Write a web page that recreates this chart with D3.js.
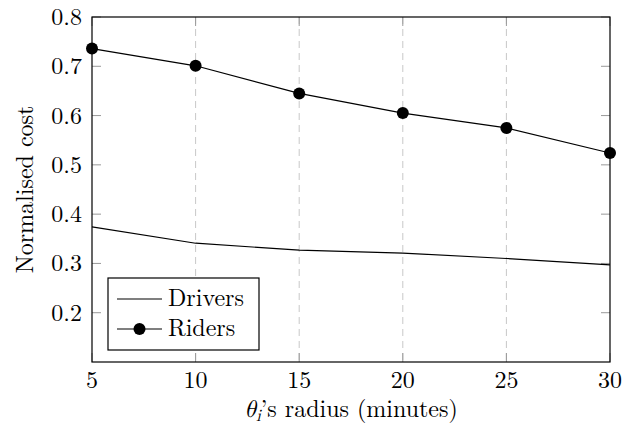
<!DOCTYPE html>
<html>
<head>
<meta charset="utf-8">
<script src="https://cdn.jsdelivr.net/npm/d3@7"></script>
<style>
  body { margin: 0; background: #fff; }
  svg text { font-family: "Latin Modern Roman", "CMU Serif", serif; fill: #000; }
  .math { font-family: "Latin Modern Math", "Latin Modern Roman", serif; font-style: italic; }
</style>
</head>
<body>
<div id="chart"></div>
<script>
// Daten
const radii = [5, 10, 15, 20, 25, 30];
const drivers = [0.374, 0.341, 0.327, 0.321, 0.310, 0.297];
const riders = [0.736, 0.701, 0.645, 0.605, 0.575, 0.524];
const yTicks = [0.2, 0.3, 0.4, 0.5, 0.6, 0.7, 0.8];

const width = 624, height = 435;
const margin = {top: 17, right: 14, bottom: 73, left: 92};
const innerWidth = width - margin.left - margin.right;
const innerHeight = height - margin.top - margin.bottom;
const fs = "24px";

const svg = d3.select("#chart").append("svg")
    .attr("width", width)
    .attr("height", height)
    .append("g")
    .attr("transform", `translate(${margin.left}, ${margin.top})`);

const x = d3.scaleLinear().domain([5, 30]).range([0, innerWidth]);
const y = d3.scaleLinear().domain([0.1, 0.8]).range([innerHeight, 0]);

// Rasterlinien
svg.selectAll(".x-grid")
    .data(radii.slice(1, -1))
    .enter().append("line")
    .attr("x1", d => x(d)).attr("x2", d => x(d))
    .attr("y1", 0).attr("y2", innerHeight)
    .attr("stroke", "#c8c8c8")
    .attr("stroke-width", 1)
    .attr("stroke-dasharray", "7,5");

// Ticks (innen, alle vier Seiten)
const tickLen = 9;
const tickColor = "#999";
svg.selectAll(".xt").data(radii).enter().append("line")
    .attr("x1", d => x(d)).attr("x2", d => x(d))
    .attr("y1", innerHeight).attr("y2", innerHeight - tickLen)
    .attr("stroke", tickColor);
svg.selectAll(".xt2").data(radii).enter().append("line")
    .attr("x1", d => x(d)).attr("x2", d => x(d))
    .attr("y1", 0).attr("y2", tickLen)
    .attr("stroke", tickColor);
svg.selectAll(".yt").data(yTicks).enter().append("line")
    .attr("x1", 0).attr("x2", tickLen)
    .attr("y1", d => y(d)).attr("y2", d => y(d))
    .attr("stroke", tickColor);
svg.selectAll(".yt2").data(yTicks).enter().append("line")
    .attr("x1", innerWidth).attr("x2", innerWidth - tickLen)
    .attr("y1", d => y(d)).attr("y2", d => y(d))
    .attr("stroke", tickColor);

// Tick-Beschriftungen
svg.selectAll(".xl").data(radii).enter().append("text")
    .attr("x", d => x(d))
    .attr("y", innerHeight + 26)
    .attr("text-anchor", "middle")
    .style("font-size", fs)
    .text(d => d);
svg.selectAll(".yl").data(yTicks).enter().append("text")
    .attr("x", -10)
    .attr("y", d => y(d) + 8)
    .attr("text-anchor", "end")
    .style("font-size", fs)
    .text(d => d.toFixed(1));

// Linien
const line = d3.line().x((d, i) => x(radii[i])).y(d => y(d));
svg.append("path").datum(drivers)
    .attr("d", line).attr("fill", "none").attr("stroke", "#000").attr("stroke-width", 1.2);
svg.append("path").datum(riders)
    .attr("d", line).attr("fill", "none").attr("stroke", "#000").attr("stroke-width", 1.2);
svg.selectAll(".pt").data(riders).enter().append("circle")
    .attr("cx", (d, i) => x(radii[i]))
    .attr("cy", d => y(d))
    .attr("r", 6)
    .attr("fill", "#000");

// Rahmen
svg.append("rect")
    .attr("width", innerWidth).attr("height", innerHeight)
    .attr("fill", "none").attr("stroke", "#000").attr("stroke-width", 1.2);

// Achsenbeschriftung
svg.append("text")
    .attr("x", innerWidth / 2)
    .attr("y", innerHeight + 55)
    .attr("text-anchor", "middle")
    .style("font-size", fs)
    .html('<tspan class="math">θ</tspan><tspan class="math" font-size="17px" dy="4">i</tspan><tspan dy="-4">’s radius (minutes)</tspan>');

svg.append("text")
    .attr("transform", "rotate(-90)")
    .attr("x", -innerHeight / 2)
    .attr("y", -59)
    .attr("text-anchor", "middle")
    .style("font-size", fs)
    .text("Normalised cost");

// Legende
const legend = svg.append("g").attr("transform", `translate(${108 - margin.left}, ${278 - margin.top})`);
legend.append("rect")
    .attr("width", 151).attr("height", 72)
    .attr("fill", "#fff").attr("stroke", "#000").attr("stroke-width", 1.2);
const items = [{name: "Drivers", marker: false}, {name: "Riders", marker: true}];
items.forEach((it, i) => {
    const cy = 21 + i * 30;
    legend.append("line")
        .attr("x1", 9).attr("x2", 54)
        .attr("y1", cy).attr("y2", cy)
        .attr("stroke", "#000").attr("stroke-width", 1.2);
    if (it.marker) {
        legend.append("circle").attr("cx", 31.5).attr("cy", cy).attr("r", 6).attr("fill", "#000");
    }
    legend.append("text")
        .attr("x", 60).attr("y", cy + 7)
        .style("font-size", fs)
        .text(it.name);
});
</script>
</body>
</html>
